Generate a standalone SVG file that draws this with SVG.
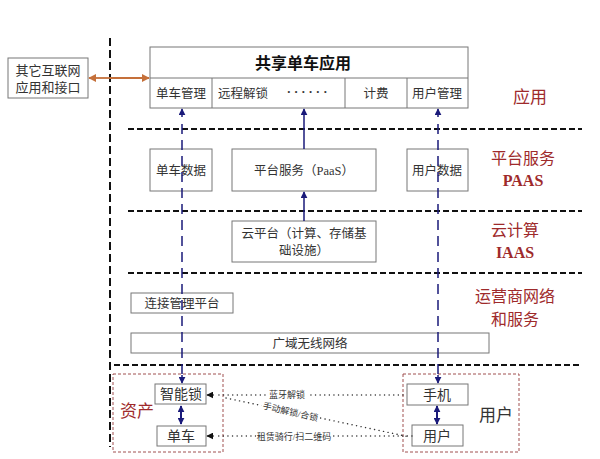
<svg xmlns="http://www.w3.org/2000/svg" width="600" height="459" viewBox="0 0 600 459">
<defs>
<style>
.box{fill:#fff;stroke:#777;stroke-width:1}
.t{font-family:"Liberation Serif","Noto Sans CJK SC",serif;font-size:12.5px;fill:#333;text-anchor:middle}
.tb{font-family:"Liberation Serif","Noto Sans CJK SC",serif;font-size:14px;fill:#333;text-anchor:middle}
.ts{font-family:"Liberation Serif","Noto Sans CJK SC",serif;font-size:9px;fill:#333;text-anchor:middle}
.red{font-family:"Liberation Serif","Noto Sans CJK SC",serif;font-size:16px;fill:#9e2a2b;text-anchor:middle}
.redb{font-family:"Liberation Serif","Noto Sans CJK SC",serif;font-size:16px;font-weight:bold;fill:#9e2a2b;text-anchor:middle}
.sep{stroke:#111;stroke-width:2;stroke-dasharray:6 3;fill:none}
.vdash{stroke:#1a1a7a;stroke-width:1.5;stroke-dasharray:10 6;fill:none}
.blue{stroke:#1a1a7a;stroke-width:1.5;fill:none}
.dot{stroke:#333;stroke-width:1.4;stroke-dasharray:0.1 4.5;stroke-linecap:round;fill:none}
.grp{fill:none;stroke:#a05050;stroke-width:1;stroke-dasharray:3 2}
</style>
<marker id="ab" viewBox="0 0 10 10" refX="9" refY="5" markerWidth="7" markerHeight="7" markerUnits="userSpaceOnUse" orient="auto-start-reverse"><path d="M0,0L10,5L0,10z" fill="#1a1a7a"/></marker>
<marker id="ak" viewBox="0 0 10 10" refX="9" refY="5" markerWidth="7" markerHeight="7" markerUnits="userSpaceOnUse" orient="auto"><path d="M0,0L10,5L0,10z" fill="#111"/></marker>
<marker id="ao" viewBox="0 0 10 10" refX="9" refY="5" markerWidth="8" markerHeight="8" markerUnits="userSpaceOnUse" orient="auto-start-reverse"><path d="M0,0L10,5L0,10z" fill="#c5703a"/></marker>
</defs>
<rect width="600" height="459" fill="#fff"/>

<g id="separators">
<line class="sep" x1="110" y1="38" x2="110" y2="447" style="stroke-dasharray:8 4"/>
<line class="sep" x1="128" y1="129" x2="582" y2="129"/>
<line class="sep" x1="128" y1="211" x2="582" y2="211"/>
<line class="sep" x1="128" y1="273" x2="582" y2="273"/>
<line class="sep" x1="114" y1="365" x2="582" y2="365"/>
</g>

<g id="layer-labels">
<text class="red" x="530" y="103" style="font-size:17px">应用</text>
<text class="red" x="523" y="164">平台服务</text>
<text class="redb" x="523" y="186">PAAS</text>
<text class="red" x="515" y="236">云计算</text>
<text class="redb" x="515" y="258">IAAS</text>
<text class="red" x="515" y="302">运营商网络</text>
<text class="red" x="515" y="325">和服务</text>
</g>

<g id="ext">
<rect class="box" x="8" y="58" width="80" height="40"/>
<text class="t" x="48" y="75" style="font-size:13px">其它互联网</text>
<text class="t" x="48" y="92" style="font-size:13px">应用和接口</text>
</g>

<g id="app">
<rect class="box" x="150" y="47" width="318" height="61"/>
<text class="t" x="303" y="69" style="font-size:16px;font-weight:bold;fill:#111">共享单车应用</text>
<line stroke="#777" x1="150" y1="78" x2="468" y2="78"/>
<line stroke="#777" x1="212" y1="78" x2="212" y2="108"/>
<line stroke="#777" x1="345" y1="78" x2="345" y2="108"/>
<line stroke="#777" x1="407" y1="78" x2="407" y2="108"/>
<text class="t" x="181" y="98">单车管理</text>
<text class="t" x="243" y="98">远程解锁</text>
<text class="t" x="307" y="96" style="font-weight:bold">·  ·  ·    ·  ·  ·</text>
<text class="t" x="376" y="98">计费</text>
<text class="t" x="437" y="98">用户管理</text>
</g>

<g id="bike-data"><rect class="box" x="150" y="149" width="62" height="42"/><text class="t" x="181" y="175">单车数据</text></g>
<g id="paas"><rect class="box" x="232" y="149" width="144" height="42"/><text class="t" x="304" y="175">平台服务（PaaS）</text></g>
<g id="user-data"><rect class="box" x="407" y="149" width="61" height="42"/><text class="t" x="437" y="175">用户数据</text></g>
<g id="iaas"><rect class="box" x="232" y="221" width="144" height="41"/><text class="t" x="304" y="238">云平台（计算、存储基</text><text class="t" x="304" y="255">础设施）</text></g>
<g id="cmp"><rect class="box" x="131" y="293" width="102" height="20"/><text class="t" x="182" y="308">连接管理平台</text></g>
<g id="wan"><rect class="box" x="131" y="333" width="358" height="20"/><text class="t" x="310" y="348">广域无线网络</text></g>

<g id="assets">
<rect class="grp" x="113" y="374" width="110" height="78"/>
<text class="red" x="137" y="417" style="font-size:17px">资产</text>
</g>
<g id="users">
<rect class="grp" x="403" y="374" width="116" height="78"/>
<text class="t" x="496" y="421" style="font-size:17px">用户</text>
</g>
<g id="lock"><rect class="box" x="155" y="384" width="51" height="20"/><text class="tb" x="181" y="399">智能锁</text></g>
<g id="bike"><rect class="box" x="157" y="426" width="49" height="20"/><text class="tb" x="181" y="441">单车</text></g>
<g id="phone"><rect class="box" x="407" y="384" width="61" height="21"/><text class="tb" x="437" y="400">手机</text></g>
<g id="user"><rect class="box" x="412" y="425" width="51" height="21"/><text class="tb" x="437" y="441">用户</text></g>

<g id="connectors">
<line x1="110" y1="78" x2="149" y2="78" stroke="#c5703a" stroke-width="1.8" marker-end="url(#ao)"/>
<line x1="110" y1="78" x2="89" y2="78" stroke="#c5703a" stroke-width="1.8" marker-end="url(#ao)"/>
<line class="blue" x1="182" y1="117" x2="182" y2="109" marker-end="url(#ab)"/>
<line class="vdash" x1="182" y1="124" x2="182" y2="378"/>
<line class="blue" x1="182" y1="375" x2="182" y2="383" marker-end="url(#ab)"/>
<line class="blue" x1="438" y1="117" x2="438" y2="109" marker-end="url(#ab)"/>
<line class="vdash" x1="438" y1="124" x2="438" y2="378"/>
<line class="blue" x1="438" y1="375" x2="438" y2="383" marker-end="url(#ab)"/>
<line class="blue" x1="304" y1="149" x2="304" y2="109" marker-end="url(#ab)"/>
<line class="blue" x1="304" y1="221" x2="304" y2="192" marker-end="url(#ab)"/>
<line class="blue" style="stroke-width:2" x1="181" y1="406" x2="181" y2="424" marker-start="url(#ab)" marker-end="url(#ab)"/>
<line class="blue" style="stroke-width:2" x1="437" y1="406" x2="437" y2="424" marker-start="url(#ab)" marker-end="url(#ab)"/>
<line class="dot" x1="403" y1="395" x2="215" y2="395"/>
<line x1="214" y1="395" x2="207" y2="395" stroke="#111" marker-end="url(#ak)"/>
<line class="dot" x1="412" y1="436" x2="215" y2="436"/>
<line x1="214" y1="436" x2="207" y2="436" stroke="#111" marker-end="url(#ak)"/>
<line class="dot" x1="226" y1="398" x2="410" y2="437"/>
<rect x="266" y="388" width="42" height="12" fill="#fff"/>
<text class="ts" x="287" y="398">蓝牙解锁</text>
<rect x="256" y="430" width="76" height="12" fill="#fff"/>
<text class="ts" x="294" y="440">租赁骑行/扫二维码</text>
<g transform="translate(290,414) rotate(13)"><rect x="-30" y="-8" width="60" height="11" fill="#fff"/><text class="ts" x="0" y="1">手动解锁/合锁</text></g>
</g>
</svg>
